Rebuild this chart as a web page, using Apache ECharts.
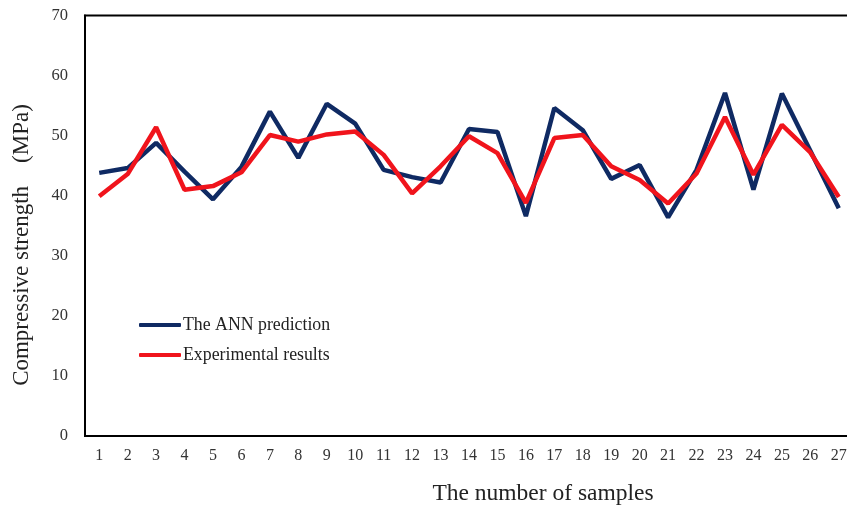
<!DOCTYPE html>
<html>
<head>
<meta charset="utf-8">
<script src="https://cdn.jsdelivr.net/npm/echarts@6/dist/echarts.min.js"></script>
<style>html,body{margin:0;padding:0;background:#fff;overflow:hidden;width:847px;height:508px;}#c{width:862px;height:508px;}</style>
</head>
<body>
<div id="c"></div>
<script>
const categories = ['1','2','3','4','5','6','7','8','9','10','11','12','13','14','15','16','17','18','19','20','21','22','23','24','25','26','27'];
const annPrediction = [43.8,44.6,48.8,44.0,39.4,44.8,54.0,46.3,55.3,52.0,44.3,43.1,42.2,51.1,50.6,36.6,54.6,50.9,42.8,45.1,36.4,44.3,57.1,41.0,57.0,47.5,37.9];
const experimental = [39.9,43.6,51.4,41.0,41.6,43.9,50.1,49.0,50.2,50.7,46.8,40.4,44.9,49.9,47.1,38.8,49.6,50.1,44.9,42.6,38.7,43.7,53.1,43.5,51.8,47.2,39.8];
const yTicks = {min:0, max:70, interval:10};
const seriesNames = ['The ANN prediction','Experimental results'];
const xTitle = 'The number of samples';
const yTitle = 'Compressive strength\u3000(MPa)';

const chart = echarts.init(document.getElementById('c'), null, {renderer:'canvas'});
const font = 'Liberation Serif';
chart.setOption({
  backgroundColor:'#fff',
  animation:false,
  grid:{left:85, top:15.5, width:768, height:420.5, show:true, borderColor:'#000', borderWidth:2, containLabel:false},
  legend:{
    orient:'vertical', left:134, top:311, itemWidth:42, itemHeight:4, itemGap:12,
    icon:'roundRect',
    textStyle:{fontFamily:font, fontSize:17.8, color:'#222', padding:[0,0,0,-3]},
    data:seriesNames
  },
  xAxis:{
    type:'category', data:categories, boundaryGap:true,
    axisLine:{show:true, lineStyle:{color:'#000', width:2}},
    axisTick:{show:false},
    axisLabel:{fontFamily:font, fontSize:16, color:'#333', margin:12, interval:0},
    splitLine:{show:false}
  },
  yAxis:{
    type:'value', min:yTicks.min, max:yTicks.max, interval:yTicks.interval,
    axisLine:{show:true, lineStyle:{color:'#000', width:2}},
    axisTick:{show:false},
    axisLabel:{fontFamily:font, fontSize:16.5, color:'#333', margin:17},
    splitLine:{show:false}
  },
  graphic:[
    {type:'text', x:543, y:494, style:{text:xTitle, fontFamily:font, fontSize:23.5, fill:'#222', align:'center', verticalAlign:'middle'}},
    {type:'text', rotation:Math.PI/2, x:22, y:245, style:{text:yTitle, fontFamily:font, fontSize:23, fill:'#222', align:'center', verticalAlign:'middle'}}
  ],
  series:[
    {name:seriesNames[0], type:'line', data:annPrediction, symbol:'none', showSymbol:false, lineStyle:{color:'#0f2a63', width:4.5}, itemStyle:{color:'#0f2a63'}, z:2},
    {name:seriesNames[1], type:'line', data:experimental, symbol:'none', showSymbol:false, lineStyle:{color:'#f0141c', width:4.5}, itemStyle:{color:'#f0141c'}, z:3}
  ]
});
</script>
</body>
</html>
